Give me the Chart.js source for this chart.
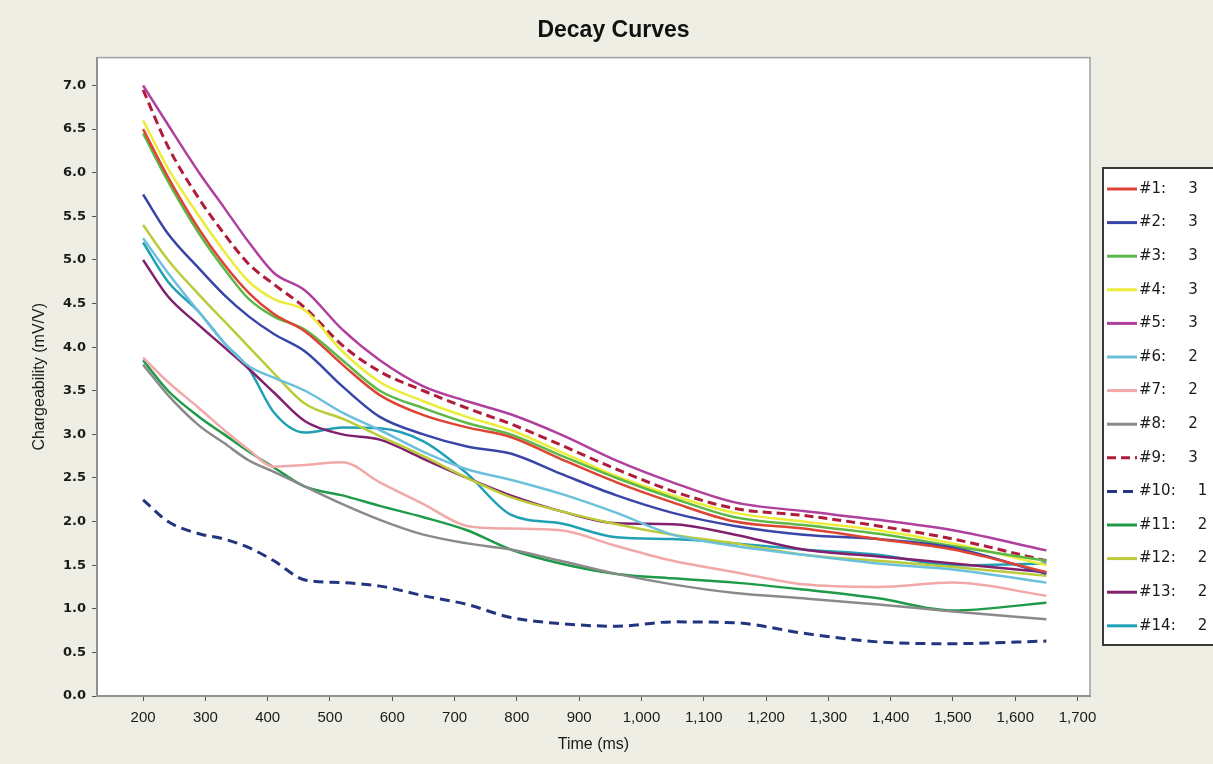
<!DOCTYPE html>
<html>
<head>
<meta charset="utf-8">
<title>Decay Curves</title>
<script src="https://cdn.jsdelivr.net/npm/chart.js@4"></script>
<style>
  html, body { margin: 0; padding: 0; background: #eeeee4; overflow: hidden; }
  #wrap { width: 1213px; height: 764px; }
</style>
</head>
<body>
<div id="wrap"><canvas id="decayChart" width="1213" height="764"></canvas></div>
<script>
// gate times (ms)
const times = [200, 240, 290, 330, 370, 410, 460, 520, 580, 650, 720, 790, 870, 960, 1050, 1150, 1260, 1380, 1500, 1650];

// chargeability per curve (mV/V)
const c1  = [6.50, 5.95, 5.35, 4.95, 4.62, 4.38, 4.18, 3.80, 3.45, 3.22, 3.08, 2.97, 2.72, 2.45, 2.22, 2.00, 1.92, 1.80, 1.68, 1.42];
const c2  = [5.75, 5.30, 4.90, 4.60, 4.35, 4.15, 3.95, 3.55, 3.20, 3.00, 2.86, 2.78, 2.55, 2.30, 2.10, 1.95, 1.85, 1.80, 1.70, 1.40];
const c3  = [6.45, 5.90, 5.30, 4.90, 4.55, 4.35, 4.20, 3.85, 3.50, 3.30, 3.13, 3.00, 2.76, 2.50, 2.27, 2.05, 1.96, 1.86, 1.72, 1.55];
const c4  = [6.60, 6.05, 5.50, 5.10, 4.75, 4.55, 4.42, 3.95, 3.60, 3.38, 3.20, 3.05, 2.80, 2.52, 2.30, 2.10, 2.00, 1.90, 1.75, 1.50];
const c5  = [7.00, 6.55, 6.00, 5.60, 5.20, 4.85, 4.65, 4.20, 3.85, 3.55, 3.38, 3.23, 3.00, 2.70, 2.45, 2.22, 2.12, 2.02, 1.90, 1.67];
const c6  = [5.25, 4.85, 4.40, 4.05, 3.78, 3.65, 3.50, 3.25, 3.05, 2.80, 2.60, 2.48, 2.32, 2.10, 1.85, 1.72, 1.62, 1.52, 1.45, 1.30];
const c7  = [3.88, 3.60, 3.30, 3.05, 2.82, 2.63, 2.65, 2.68, 2.45, 2.20, 1.95, 1.92, 1.90, 1.72, 1.55, 1.42, 1.28, 1.25, 1.30, 1.15];
const c8  = [3.80, 3.45, 3.10, 2.90, 2.70, 2.57, 2.40, 2.20, 2.02, 1.85, 1.75, 1.68, 1.55, 1.40, 1.28, 1.18, 1.12, 1.05, 0.97, 0.88];
const c9  = [6.95, 6.30, 5.70, 5.30, 4.95, 4.72, 4.45, 4.02, 3.72, 3.50, 3.30, 3.12, 2.88, 2.60, 2.35, 2.15, 2.07, 1.95, 1.80, 1.55];
const c10 = [2.25, 2.00, 1.86, 1.80, 1.70, 1.55, 1.33, 1.30, 1.26, 1.15, 1.05, 0.90, 0.83, 0.80, 0.85, 0.84, 0.72, 0.62, 0.60, 0.63];
const c11 = [3.85, 3.50, 3.20, 3.00, 2.80, 2.62, 2.40, 2.30, 2.18, 2.05, 1.90, 1.68, 1.52, 1.40, 1.35, 1.30, 1.22, 1.12, 0.98, 1.07];
const c12 = [5.40, 5.00, 4.60, 4.30, 4.00, 3.70, 3.35, 3.18, 2.98, 2.75, 2.50, 2.28, 2.12, 1.97, 1.85, 1.75, 1.62, 1.55, 1.48, 1.38];
const c13 = [5.00, 4.58, 4.25, 4.00, 3.75, 3.48, 3.15, 3.00, 2.94, 2.72, 2.50, 2.30, 2.12, 1.98, 1.97, 1.85, 1.68, 1.60, 1.52, 1.42];
const c14 = [5.20, 4.75, 4.40, 4.05, 3.75, 3.25, 3.02, 3.08, 3.07, 2.92, 2.55, 2.08, 1.98, 1.82, 1.80, 1.75, 1.68, 1.62, 1.50, 1.52];

const curveNames = ["#1", "#2", "#3", "#4", "#5", "#6", "#7", "#8", "#9", "#10", "#11", "#12", "#13", "#14"];
const curveGroups = [3, 3, 3, 3, 3, 2, 2, 2, 3, 1, 2, 2, 2, 2];

const xTicks = [200, 300, 400, 500, 600, 700, 800, 900, 1000, 1100, 1200, 1300, 1400, 1500, 1600, 1700];
const yTicks = [0, 0.5, 1, 1.5, 2, 2.5, 3, 3.5, 4, 4.5, 5, 5.5, 6, 6.5, 7];

const allCurves = [c1, c2, c3, c4, c5, c6, c7, c8, c9, c10, c11, c12, c13, c14];
const colors = ["#dd4433", "#3a45a8", "#5cb848", "#ecec3a", "#b0409e", "#6cc0dc", "#f0a8a8",
                "#8a8a8a", "#b01c3c", "#24347e", "#1e9a48", "#bccb3a", "#80206e", "#20a0b4"];
const dashes = { 8: [9, 5], 9: [10, 6] };

const datasets = allCurves.map((vals, i) => ({
  label: curveNames[i],
  data: vals.map((v, j) => ({ x: times[j], y: v })),
  borderColor: colors[i],
  backgroundColor: colors[i],
  borderWidth: dashes[i] ? 3 : 2.5,
  borderDash: dashes[i] || [],
  pointRadius: 0,
  cubicInterpolationMode: "monotone",
  fill: false
}));

// white plot area + frame
const plotFrame = {
  id: "plotFrame",
  beforeDraw(chart) {
    const a = chart.chartArea;
    chart.ctx.save();
    chart.ctx.fillStyle = "#ffffff";
    chart.ctx.fillRect(a.left, a.top, a.right - a.left, a.bottom - a.top);
    chart.ctx.restore();
  },
  afterDatasetsDraw(chart) {
    const a = chart.chartArea;
    const ctx = chart.ctx;
    ctx.save();
    ctx.strokeStyle = "#a0a0a0";
    ctx.lineWidth = 1.5;
    ctx.strokeRect(a.left, a.top, a.right - a.left, a.bottom - a.top);
    ctx.restore();
  }
};

// boxed legend on the right, cut off by the page edge like the original
const legendBox = {
  id: "legendBox",
  afterDraw(chart) {
    const ctx = chart.ctx;
    const left = chart.chartArea.right + 13;
    const top = 168, rowH = 33.6;
    ctx.save();
    ctx.fillStyle = "#ffffff";
    ctx.fillRect(left, top, 150, 477);
    ctx.strokeStyle = "#3a3a3a";
    ctx.lineWidth = 2;
    ctx.strokeRect(left, top, 150, 477);
    ctx.font = '15px "DejaVu Sans"';
    ctx.textBaseline = "middle";
    chart.data.datasets.forEach((ds, i) => {
      const y = top + 21 + i * rowH;
      ctx.strokeStyle = ds.borderColor;
      ctx.lineWidth = 3;
      ctx.setLineDash(ds.borderDash);
      ctx.beginPath();
      ctx.moveTo(left + 4, y);
      ctx.lineTo(left + 34, y);
      ctx.stroke();
      ctx.setLineDash([]);
      ctx.fillStyle = "#1a1a1a";
      const txt = ds.label + ":";
      ctx.fillText(txt, left + 36, y);
      ctx.fillText(String(curveGroups[i]), left + 36 + ctx.measureText(txt).width + 22, y);
    });
    ctx.restore();
  }
};

new Chart(document.getElementById("decayChart"), {
  type: "line",
  data: { datasets: datasets },
  plugins: [plotFrame, legendBox],
  options: {
    responsive: false,
    animation: false,
    layout: { padding: { left: 14, right: 0, top: 0, bottom: 0 } },
    plugins: {
      legend: { display: false },
      tooltip: { enabled: false },
      title: {
        display: true,
        text: "Decay Curves",
        color: "#111",
        font: { family: "Liberation Sans", size: 23, weight: "bold" },
        padding: { top: 17, bottom: 13 }
      }
    },
    scales: {
      x: {
        type: "linear",
        min: 126,
        max: 1720,
        afterBuildTicks: (s) => { s.ticks = xTicks.map(v => ({ value: v })); },
        afterFit: (s) => { s.height = 68; },
        ticks: {
          autoSkip: false,
          maxRotation: 0,
          padding: 8,
          color: "#1a1a1a",
          font: { family: "Liberation Sans", size: 15 },
          callback: (v) => v.toLocaleString("en-US")
        },
        grid: { drawOnChartArea: false, drawTicks: true, tickLength: 5, color: "#555" },
        border: { color: "#666", width: 2 },
        title: {
          display: true,
          text: "Time (ms)",
          color: "#1a1a1a",
          font: { family: "Liberation Sans", size: 16 },
          padding: { top: 0, bottom: 10 }
        }
      },
      y: {
        min: 0,
        max: 7.32,
        afterBuildTicks: (s) => { s.ticks = yTicks.map(v => ({ value: v })); },
        afterFit: (s) => { s.width = 83; },
        ticks: {
          padding: 6,
          color: "#1a1a1a",
          font: { family: "DejaVu Sans", size: 13, weight: "bold" },
          callback: (v) => v.toFixed(1)
        },
        grid: { drawOnChartArea: false, drawTicks: true, tickLength: 5, color: "#555" },
        border: { color: "#666", width: 2 },
        title: {
          display: true,
          text: "Chargeability (mV/V)",
          color: "#1a1a1a",
          font: { family: "Liberation Sans", size: 16 },
          padding: { top: 16, bottom: 0 }
        }
      },
      // empty axis that only reserves room for the legend box
      yLegend: {
        position: "right",
        afterFit: (s) => { s.width = 123; },
        ticks: { display: false },
        grid: { display: false },
        border: { display: false }
      }
    }
  }
});
</script>
</body>
</html>
